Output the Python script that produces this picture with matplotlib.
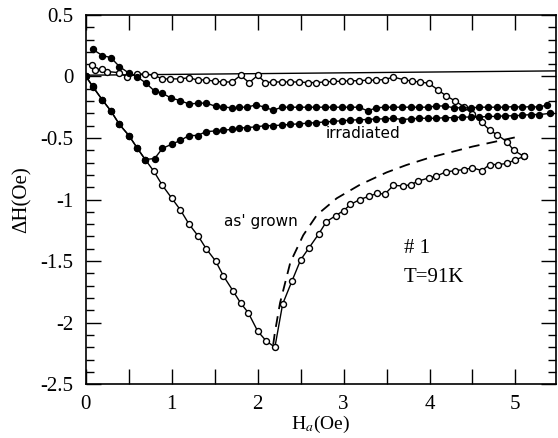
import matplotlib
matplotlib.use("Agg")
import matplotlib.pyplot as plt
from matplotlib.ticker import MultipleLocator, FixedLocator

plt.rcParams['axes.unicode_minus'] = False
plt.rcParams['mathtext.fontset'] = 'stix'

# ---- data ----
# irradiated, forward (filled circles)
irr_fwd_x = [0.0, 0.08, 0.19, 0.29, 0.39, 0.50, 0.60, 0.69, 0.80, 0.89, 1.00, 1.10, 1.20, 1.30,
             1.40, 1.51, 1.60, 1.70, 1.78, 1.88, 1.98, 2.08, 2.18, 2.28, 2.38, 2.48, 2.58, 2.68,
             2.78, 2.88, 2.98, 3.08, 3.18, 3.28, 3.38, 3.48, 3.58, 3.68, 3.78, 3.88, 3.98, 4.08,
             4.18, 4.28, 4.38, 4.48, 4.58, 4.68, 4.78, 4.88, 4.98, 5.08, 5.18, 5.28, 5.40]
irr_fwd_y = [0.0, -0.08, -0.19, -0.28, -0.39, -0.48, -0.585, -0.675, -0.667, -0.585, -0.55, -0.52,
             -0.48, -0.48, -0.448, -0.443, -0.437, -0.43, -0.42, -0.415, -0.41, -0.40, -0.40,
             -0.395, -0.39, -0.385, -0.38, -0.375, -0.37, -0.365, -0.36, -0.355, -0.352, -0.35,
             -0.345, -0.345, -0.34, -0.35, -0.345, -0.34, -0.34, -0.34, -0.335, -0.335, -0.33,
             -0.33, -0.33, -0.325, -0.325, -0.32, -0.32, -0.315, -0.31, -0.31, -0.30]

# irradiated, return (filled circles)
irr_ret_x = [0.08, 0.19, 0.29, 0.39, 0.50, 0.60, 0.70, 0.80, 0.89, 0.99, 1.10, 1.20, 1.30, 1.40,
             1.51, 1.60, 1.70, 1.78, 1.88, 1.98, 2.08, 2.18, 2.28, 2.38, 2.48, 2.58, 2.68, 2.78,
             2.88, 2.98, 3.08, 3.18, 3.28, 3.38, 3.48, 3.58, 3.68, 3.78, 3.88, 3.98, 4.08, 4.18,
             4.28, 4.38, 4.48, 4.58, 4.68, 4.78, 4.88, 4.98, 5.08, 5.18, 5.28, 5.37]
irr_ret_y = [0.22, 0.17, 0.153, 0.08, 0.027, -0.005, -0.055, -0.12, -0.137, -0.175, -0.197,
             -0.224, -0.218, -0.216, -0.243, -0.246, -0.257, -0.25, -0.25, -0.23, -0.25, -0.275,
             -0.25, -0.25, -0.25, -0.25, -0.25, -0.25, -0.25, -0.25, -0.25, -0.25, -0.28, -0.255,
             -0.25, -0.25, -0.25, -0.25, -0.25, -0.25, -0.24, -0.24, -0.255, -0.255, -0.255,
             -0.25, -0.25, -0.25, -0.25, -0.245, -0.25, -0.245, -0.25, -0.23]

# as grown, forward (open circles)
asg_fwd_x = [0.0, 0.08, 0.19, 0.29, 0.39, 0.50, 0.60, 0.69, 0.79, 0.89, 1.00, 1.10, 1.20, 1.31,
             1.40, 1.51, 1.60, 1.71, 1.80, 1.89, 2.00, 2.10, 2.20, 2.29, 2.40, 2.50, 2.60, 2.71,
             2.80, 2.91, 3.00, 3.08, 3.19, 3.29, 3.39, 3.48, 3.58, 3.69, 3.78, 3.87, 3.99, 4.08,
             4.19, 4.30, 4.40, 4.50, 4.61, 4.70, 4.80, 4.90, 4.99, 5.10]
asg_fwd_y = [0.0, -0.085, -0.19, -0.28, -0.39, -0.48, -0.585, -0.675, -0.77, -0.885, -0.99,
             -1.085, -1.20, -1.30, -1.40, -1.50, -1.62, -1.74, -1.84, -1.92, -2.07, -2.15, -2.20,
             -1.85, -1.66, -1.49, -1.39, -1.28, -1.18, -1.13, -1.09, -1.04, -1.00, -0.975, -0.95,
             -0.956, -0.885, -0.89, -0.88, -0.85, -0.825, -0.81, -0.776, -0.765, -0.757, -0.743,
             -0.765, -0.716, -0.716, -0.707, -0.68, -0.65]

# as grown, return (open circles)
asg_ret_x = [5.10, 4.98, 4.90, 4.79, 4.70, 4.61, 4.50, 4.40, 4.30, 4.19, 4.10, 3.99, 3.89, 3.80,
             3.70, 3.58, 3.48, 3.38, 3.28, 3.18, 3.08, 2.98, 2.88, 2.78, 2.68, 2.58, 2.48, 2.38,
             2.28, 2.18, 2.09, 2.00, 1.90, 1.80, 1.70, 1.60, 1.50, 1.40, 1.30, 1.20, 1.10, 0.98,
             0.89, 0.79, 0.69, 0.60, 0.48, 0.39, 0.25, 0.19, 0.11, 0.07]
asg_ret_y = [-0.65, -0.60, -0.53, -0.475, -0.437, -0.374, -0.306, -0.246, -0.20, -0.156, -0.11,
             -0.055, -0.046, -0.038, -0.027, -0.005, -0.025, -0.03, -0.03, -0.035, -0.035, -0.04,
             -0.04, -0.045, -0.05, -0.05, -0.045, -0.045, -0.045, -0.045, -0.05, 0.008, -0.05,
             0.008, -0.045, -0.045, -0.04, -0.027, -0.03, -0.01, -0.02, -0.02, -0.02, 0.01, 0.02,
             0.02, -0.005, 0.03, 0.04, 0.06, 0.055, 0.09]

# dashed curve
dash_x = [2.18, 2.20, 2.26, 2.38, 2.53, 2.69, 2.92, 3.19, 3.50, 3.73, 4.00, 4.50, 5.03]
dash_y = [-2.18, -2.08, -1.84, -1.51, -1.29, -1.125, -0.99, -0.88, -0.78, -0.72, -0.66, -0.57, -0.49]

# reference line near zero
zero_x = [0.0, 5.47]
zero_y = [0.01, 0.045]

x_ticklabels = ['0', '1', '2', '3', '4', '5']
y_ticks = [0.5, 0.0, -0.5, -1.0, -1.5, -2.0, -2.5]
y_ticklabels = ['0.5', '0', '-0.5', '-1', '-1.5', '-2', '-2.5']

# ---- figure ----
fig = plt.figure(figsize=(5.58, 4.38), dpi=100)
ax = fig.add_axes([0.154, 0.123, 0.842, 0.843])

serif = 'Liberation Serif'

ax.plot(zero_x, zero_y, color='black', lw=1.0)
ax.plot(dash_x, dash_y, color='black', lw=1.3, ls=(0, (6, 4)))

ms = 4.3
ax.plot(asg_fwd_x, asg_fwd_y, color='black', lw=1.0, marker='o', ms=ms,
        mfc='white', mec='black', mew=1.0)
ax.plot(asg_ret_x, asg_ret_y, color='black', lw=1.0, marker='o', ms=ms,
        mfc='white', mec='black', mew=1.0)
ax.plot(irr_ret_x, irr_ret_y, color='black', lw=1.0, marker='o', ms=ms,
        mfc='black', mec='black')
ax.plot(irr_fwd_x, irr_fwd_y, color='black', lw=1.0, marker='o', ms=ms,
        mfc='black', mec='black')

ax.set_xlim(0, 5.47)
ax.set_ylim(-2.5, 0.5)

ax.xaxis.set_major_locator(FixedLocator(list(range(len(x_ticklabels)))))
ax.set_xticklabels(x_ticklabels)
ax.xaxis.set_minor_locator(MultipleLocator(0.5))
ax.yaxis.set_major_locator(FixedLocator(y_ticks))
ax.set_yticklabels(y_ticklabels)
ax.yaxis.set_minor_locator(MultipleLocator(0.1))

ax.tick_params(which='both', direction='in', top=True, right=True, width=1.0)
ax.tick_params(axis='x', which='major', length=11, pad=8)
ax.tick_params(axis='x', which='minor', length=11)
ax.tick_params(axis='y', which='major', length=11, pad=9)
ax.tick_params(axis='y', which='minor', length=6)
for lab in ax.get_xticklabels() + ax.get_yticklabels():
    lab.set_fontfamily(serif)
    lab.set_fontsize(15)

for sp in ax.spines.values():
    sp.set_linewidth(1.2)

ax.set_xlabel('H$_a$(Oe)', fontfamily=serif, fontsize=14, labelpad=0)
ax.set_ylabel('ΔH(Oe)', fontfamily=serif, fontsize=15, labelpad=6)

ax.text(3.23, -0.46, 'irradiated', fontsize=11, ha='center', va='center',
        fontfamily='DejaVu Sans')
ax.text(2.04, -1.18, "as' grown", fontsize=11, ha='center', va='center',
        fontfamily='DejaVu Sans')
ax.text(3.86, -1.40, '# 1', fontsize=15, ha='center', va='center', fontfamily=serif)
ax.text(4.05, -1.63, 'T=91K', fontsize=15, ha='center', va='center', fontfamily=serif)

fig.savefig('out.png', dpi=100)
